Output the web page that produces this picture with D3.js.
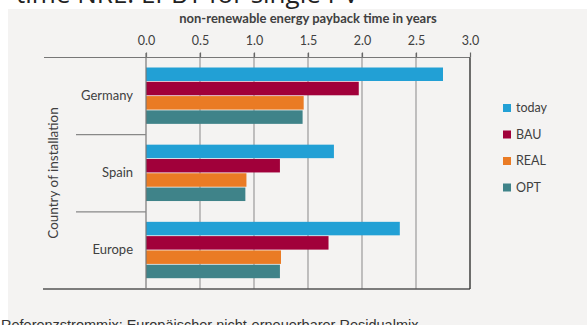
<!DOCTYPE html>
<html lang="en">
<head>
<meta charset="utf-8">
<title>NRE payback time</title>
<script src="https://cdn.jsdelivr.net/npm/d3@7"></script>
<style>
body { margin: 0; background: #ffffff; }
svg { display: block; }
.lbl { font-family: Lato, "Open Sans", sans-serif; fill: #404040; }
</style>
</head>
<body>
<svg width="587" height="325"></svg>
<script>
// values (years)
var countries = ["Germany", "Spain", "Europe"];
var series = ["today", "BAU", "REAL", "OPT"];
var today = [2.75, 1.74, 2.35];
var bau   = [1.97, 1.24, 1.69];
var real  = [1.46, 0.93, 1.25];
var opt   = [1.45, 0.92, 1.24];
var ticks = [0, 0.5, 1, 1.5, 2, 2.5, 3];
var colors = ["#22a0d5", "#a1003a", "#ea7b24", "#3f8389"];

var values = [today, bau, real, opt];

var svg = d3.select("svg");

// slide panel
svg.append("rect").attr("x", 8).attr("y", 9).attr("width", 579).attr("height", 316)
  .attr("fill", "#f4f3f2");

// cropped slide title
svg.append("text").attr("x", 16).attr("y", 3)
  .style("font-family", "'Open Sans', sans-serif").style("font-size", "26px").attr("fill", "#222")
  .text("time NRE: EPBT for single PV");

var x = d3.scaleLinear().domain([0, 3]).range([146, 470]);
var y = d3.scaleBand().domain(countries).range([57.5, 289]);
var y1 = d3.scaleBand().domain(series).range([0, y.bandwidth()]).paddingOuter(0.7);

// grid lines
svg.append("g").selectAll("line").data(ticks.slice(1, -1)).enter().append("line")
  .attr("x1", function(d) { return x(d); }).attr("x2", function(d) { return x(d); })
  .attr("y1", 53).attr("y2", 289)
  .attr("stroke", "#9a9a9a").attr("stroke-width", 1.2);

// bars
countries.forEach(function(c, i) {
  var g = svg.append("g").attr("transform", "translate(0," + y(c) + ")");
  g.selectAll("rect").data(series).enter().append("rect")
    .attr("x", x(0))
    .attr("y", function(s) { return y1(s); })
    .attr("width", function(s, j) { return x(values[j][i]) - x(0); })
    .attr("height", y1.bandwidth() - 0.8)
    .attr("fill", function(s, j) { return colors[j]; });
});

// top axis
var xAxis = svg.append("g").attr("transform", "translate(0,57.5)")
  .call(d3.axisTop(x).tickValues(ticks).tickFormat(d3.format(".1f")).tickSize(5).tickPadding(8));
xAxis.select(".domain").remove();
xAxis.selectAll(".tick line").attr("stroke", "#666").attr("stroke-width", 1.2);
xAxis.selectAll(".tick text").attr("class", "lbl").style("font-size", "12.5px").attr("fill", "#404040");

// frame lines
svg.append("line").attr("x1", 44).attr("x2", 470).attr("y1", 57.5).attr("y2", 57.5)
  .attr("stroke", "#777").attr("stroke-width", 1.2);
svg.append("line").attr("x1", 43).attr("x2", 470).attr("y1", 289).attr("y2", 289)
  .attr("stroke", "#555").attr("stroke-width", 1.4);
svg.append("line").attr("x1", 470).attr("x2", 470).attr("y1", 57.5).attr("y2", 289)
  .attr("stroke", "#333").attr("stroke-width", 1.4);
svg.append("line").attr("x1", x(0)).attr("x2", x(0)).attr("y1", 53).attr("y2", 289)
  .attr("stroke", "#777").attr("stroke-width", 1.2);

// category separators
svg.append("g").selectAll("line").data(countries.slice(1)).enter().append("line")
  .attr("x1", 76).attr("x2", x(0))
  .attr("y1", function(c) { return y(c); }).attr("y2", function(c) { return y(c); })
  .attr("stroke", "#888").attr("stroke-width", 1.2);

// category labels
svg.append("g").selectAll("text").data(countries).enter().append("text")
  .attr("class", "lbl")
  .attr("x", 133)
  .attr("y", function(c) { return y(c) + y.bandwidth() / 2 - 1; })
  .attr("dy", "0.35em").attr("text-anchor", "end")
  .style("font-size", "13px")
  .text(function(c) { return c; });

// axis titles
svg.append("text").attr("class", "lbl")
  .attr("x", (x(0) + x(3)) / 2).attr("y", 23).attr("text-anchor", "middle")
  .style("font-size", "13px").style("font-weight", "bold")
  .text("non-renewable energy payback time in years");

svg.append("text").attr("class", "lbl")
  .attr("transform", "translate(58,173) rotate(-90)").attr("text-anchor", "middle")
  .style("font-size", "13.5px")
  .text("Country of installation");

// legend
var leg = svg.append("g").selectAll("g").data(series).enter().append("g")
  .attr("transform", function(s, i) { return "translate(503," + (108 + i * 26.5) + ")"; });
leg.append("rect").attr("x", 0).attr("y", -4).attr("width", 8).attr("height", 8)
  .attr("fill", function(s, i) { return colors[i]; });
leg.append("text").attr("class", "lbl").attr("x", 13).attr("dy", "0.35em")
  .style("font-size", "12.5px").text(function(s) { return s; });

// cropped footnote
svg.append("text").attr("x", 1).attr("y", 329.5)
  .style("font-family", "'Liberation Sans', Arial, sans-serif").style("font-size", "14.5px").attr("fill", "#333")
  .text("Referenzstrommix: Europäischer nicht-erneuerbarer Residualmix");
</script>
</body>
</html>
